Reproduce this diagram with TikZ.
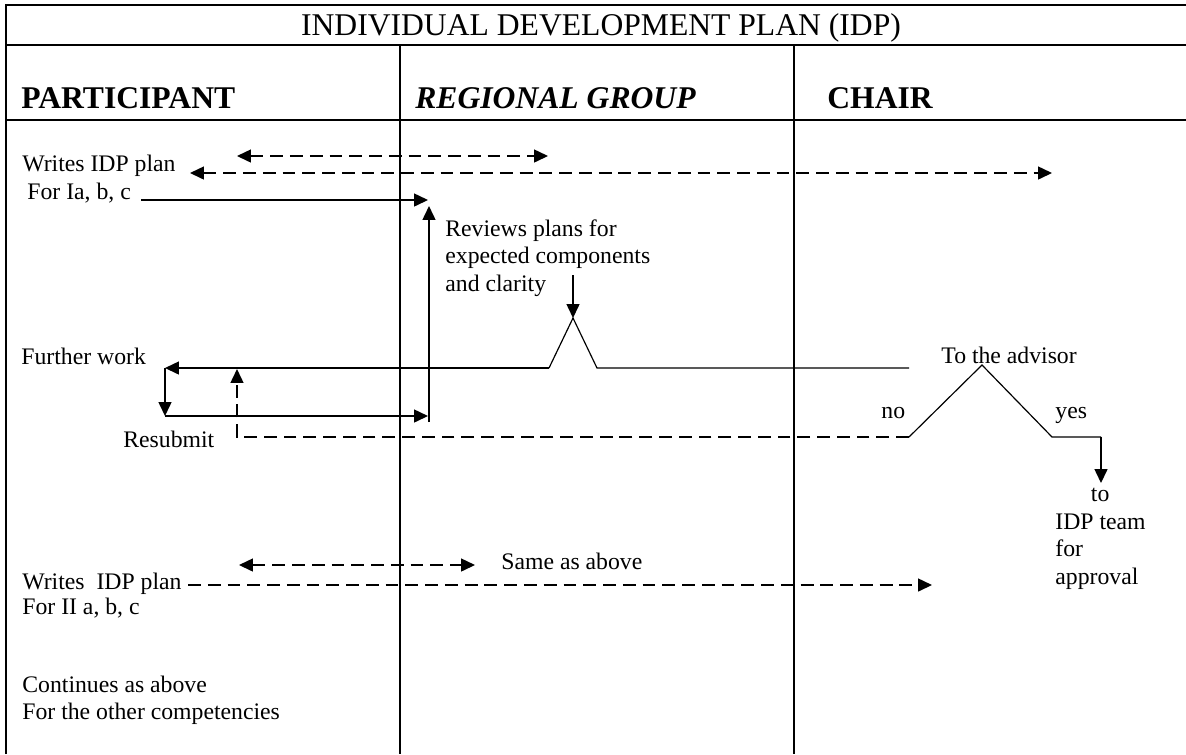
\documentclass[tikz,border=0pt]{standalone}
\usepackage{fontspec}
\setmainfont{Liberation Serif}
\usetikzlibrary{arrows.meta}
\tikzset{
  txt/.style={anchor=base west,inner sep=0pt,font=\fontsize{12}{13.9}\selectfont},
  block/.style={anchor=north west,inner sep=0pt,align=left,font=\fontsize{12}{13.9}\selectfont},
  head/.style={anchor=base west,inner sep=0pt,font=\fontsize{16}{19}\selectfont\bfseries},
  rule/.style={line width=1.1pt},
  flow/.style={line width=0.75pt,->},
  back/.style={line width=0.75pt,dash pattern=on 6.5pt off 3.5pt},
  both/.style={back,<->},
  ridge/.style={line width=0.6pt},
  >={Triangle[length=7pt,width=6.5pt]}
}
\begin{document}
\begin{tikzpicture}[x=0.506pt,y=-0.506pt]
\useasboundingbox (0,0) rectangle (1186,754);
\draw[rule] (6,754) -- (6,5) -- (1186,5);
\draw[rule] (6,45) -- (1186,45);
\draw[rule] (6,120) -- (1186,120);
\draw[rule] (400,45) -- (400,754);
\draw[rule] (794,45) -- (794,754);
\node[anchor=base,inner sep=0pt,font=\fontsize{16}{19}\selectfont] (title) at(601,35){INDIVIDUAL DEVELOPMENT PLAN (IDP)};
\node[head] (part) at(21,108){PARTICIPANT};
\node[head,font=\fontsize{16}{19}\selectfont\bfseries\itshape] (group) at(415,108){REGIONAL GROUP};
\node[head] (chair) at(827,108){CHAIR};
\node[txt] (write) at(22,171){Writes IDP plan};
\node[txt] (forI) at(27,199){For Ia, b, c};
\node[block] (review) at(445,219){Reviews plans for\\expected components\\and clarity};
\node[txt] (further) at(21,364){Further work};
\node[txt] (resub) at(123,447){Resubmit};
\node[txt] (advisor) at(941,363){To the advisor};
\node[txt] (no) at(881,418){no};
\node[txt] (yes) at(1055,418){yes};
\node[block] (team) at(1055,488){\hspace*{18pt}to\\IDP team\\for\\approval};
\node[txt] (same) at(501,569){Same as above};
\node[txt] (writeII) at(22,589){Writes\ \ IDP plan};
\node[txt] (forII) at(22,614){For II a, b, c};
\node[txt] (cont) at(22,692){Continues as above};
\node[txt] (other) at(22,719){For the other competencies};
\coordinate (wA) at(237,156); \coordinate (wB) at(548,156);
\coordinate (vA) at(190,173); \coordinate (vB) at(1052,173);
\coordinate (sub) at(141,200); \coordinate (rg) at(428,200);
\coordinate (upS) at(429,422); \coordinate (upE) at(429,206);
\coordinate (revS) at(573,275); \coordinate (peak) at(573,318);
\coordinate (pL) at(549,368); \coordinate (pR) at(597,368);
\coordinate (adv) at(909,368);
\coordinate (fw) at(165,368); \coordinate (fwD) at(165,416); \coordinate (rs) at(428,416);
\coordinate (noF) at(909,437); \coordinate (apex) at(982,365);
\coordinate (yesF) at(1052,437); \coordinate (yesC) at(1101,437); \coordinate (toTeam) at(1101,483);
\coordinate (reC) at(237,437); \coordinate (reE) at(237,369);
\coordinate (sA) at(239,565); \coordinate (sB) at(475,565);
\coordinate (iiS) at(188,585); \coordinate (iiE) at(932,585);
\draw[both] (wA) -- (wB);
\draw[both] (vA) -- (vB);
\draw[flow] (sub) -- (rg);
\draw[flow] (upS) -- (upE);
\draw[flow] (revS) -- (peak);
\draw[ridge] (pL) -- (peak) -- (pR) -- (adv);
\draw[flow] (pL) -- (fw);
\draw[flow] (fw) -- (fwD);
\draw[flow] (fwD) -- (rs);
\draw[ridge] (noF) -- (apex) -- (yesF) -- (yesC);
\draw[flow] (yesC) -- (toTeam);
\draw[back,->] (noF) -- (reC) -- (reE);
\draw[both] (sA) -- (sB);
\draw[back,->] (iiS) -- (iiE);
\end{tikzpicture}
\end{document}
